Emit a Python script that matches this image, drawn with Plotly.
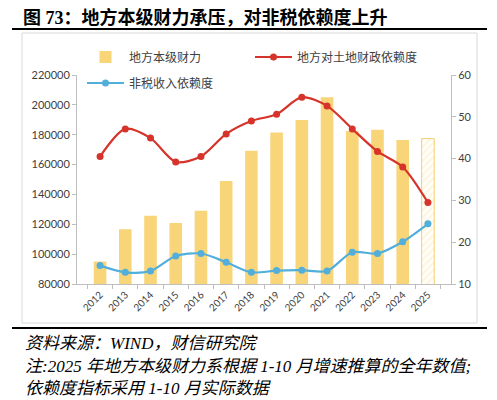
import plotly.graph_objects as go

# 数据
years = [str(y) for y in range(2012, 2026)]
local_fiscal = [95000, 116700, 125800, 120900, 129100, 149000, 169300,
                181400, 189900, 205100, 182500, 183400, 176500, 177400]
land_dep = [40.5, 47.1, 44.9, 39.2, 40.5, 45.9, 49.0, 50.6, 54.7, 52.6, 47.1, 41.7, 38.0, 29.5]
nontax_dep = [14.4, 12.8, 13.1, 16.7, 17.3, 15.2, 12.8, 13.2, 13.3, 13.1, 17.6, 17.3, 20.1, 24.4]

# 页面 body 默认有 8px 边距，图像尺寸和坐标都按此扣除
OFF = 8
W, H = 497 - OFF, 400 - OFF
L, R, T, B = 77 - OFF, 451 - OFF, 75 - OFF, 284 - OFF  # 绘图区像素边界


def px_x(p):
    return (p - OFF - L) / (R - L)


def px_y(p):
    return (B - (p - OFF)) / (B - T)


YELLOW = "#F9D57A"
RED = "#D6332A"
BLUE = "#52AEDB"
TXT = "#404040"
FONT = "Lato, Noto Sans CJK SC"

n = len(years)
bar_colors = [YELLOW] * (n - 1) + ["#FEF6DF"]
bar_shapes = [""] * (n - 1) + ["/"]
bar_lw = [0] * (n - 1) + [1]

fig = go.Figure()
fig.add_trace(go.Bar(
    x=years, y=local_fiscal, name="地方本级财力", width=0.5,
    marker=dict(color=bar_colors, line=dict(width=bar_lw, color="#F6D06E"),
                pattern=dict(shape=bar_shapes, fgcolor="#F6D06E", size=5, solidity=0.5,
                             fillmode="replace")),
    legend="legend",
))
fig.add_trace(go.Scatter(
    x=years, y=land_dep, name="地方对土地财政依赖度", yaxis="y2",
    mode="lines+markers", line=dict(color=RED, width=2.2, shape="spline", smoothing=0.8),
    marker=dict(size=7, color=RED), legend="legend2",
))
fig.add_trace(go.Scatter(
    x=years, y=nontax_dep, name="非税收入依赖度", yaxis="y2",
    mode="lines+markers", line=dict(color=BLUE, width=2.2, shape="spline", smoothing=0.8),
    marker=dict(size=7, color=BLUE), legend="legend3",
))

axis_common = dict(showgrid=False, zeroline=False, showline=True, linecolor="#BFBFBF",
                   ticks="outside", ticklen=4, tickcolor="#BFBFBF",
                   tickfont=dict(size=11, color=TXT, family=FONT))

legend_common = dict(orientation="h", yanchor="middle", xanchor="left", bgcolor="rgba(0,0,0,0)",
                     itemwidth=37, font=dict(size=12, color=TXT, family=FONT))

fig.update_layout(
    width=W, height=H,
    margin=dict(l=L, r=W - R, t=T, b=H - B, autoexpand=False),
    paper_bgcolor="white", plot_bgcolor="white",
    font=dict(family=FONT, color=TXT),
    showlegend=True,
    xaxis=dict(axis_common, type="category", tickangle=-45, tickson="boundaries",
               tickfont=dict(size=10, color=TXT, family=FONT)),
    yaxis=dict(axis_common, range=[80000, 220000], dtick=20000, tickformat="d"),
    yaxis2=dict(axis_common, range=[10, 60], dtick=10, overlaying="y", side="right"),
    legend=dict(legend_common, x=px_x(82), y=px_y(57)),
    legend2=dict(legend_common, x=px_x(250), y=px_y(57)),
    legend3=dict(legend_common, x=px_x(82), y=px_y(83)),
    bargap=0.5,
)

# 外框与分隔线
fig.add_shape(type="rect", xref="paper", yref="paper", layer="below",
              x0=px_x(22), x1=px_x(477), y0=px_y(323), y1=px_y(33),
              line=dict(color="#D9D9D9", width=1))
for yy in (29, 328):
    fig.add_shape(type="line", xref="paper", yref="paper",
                  x0=px_x(12), x1=px_x(487), y0=px_y(yy), y1=px_y(yy),
                  line=dict(color="black", width=2.2))

fig.add_annotation(text="<b>图 73：地方本级财力承压，对非税依赖度上升</b>",
                   xref="paper", yref="paper", x=px_x(21), y=px_y(17),
                   xanchor="left", yanchor="middle", showarrow=False,
                   font=dict(size=18, color="black", family="Liberation Serif, Noto Sans CJK SC"))

notes = [
    ("资料来源：WIND，财信研究院", 343),
    ("注:2025 年地方本级财力系根据 1-10 月增速推算的全年数值;", 366),
    ("依赖度指标采用 1-10 月实际数据", 388),
]
for txt, yy in notes:
    fig.add_annotation(text=txt, xref="paper", yref="paper", x=px_x(23), y=px_y(yy),
                       xanchor="left", yanchor="middle", showarrow=False,
                       font=dict(size=17, color="black", family="Liberation Serif, Noto Sans CJK SC",
                                 style="italic"))

fig.write_html("out.html")
